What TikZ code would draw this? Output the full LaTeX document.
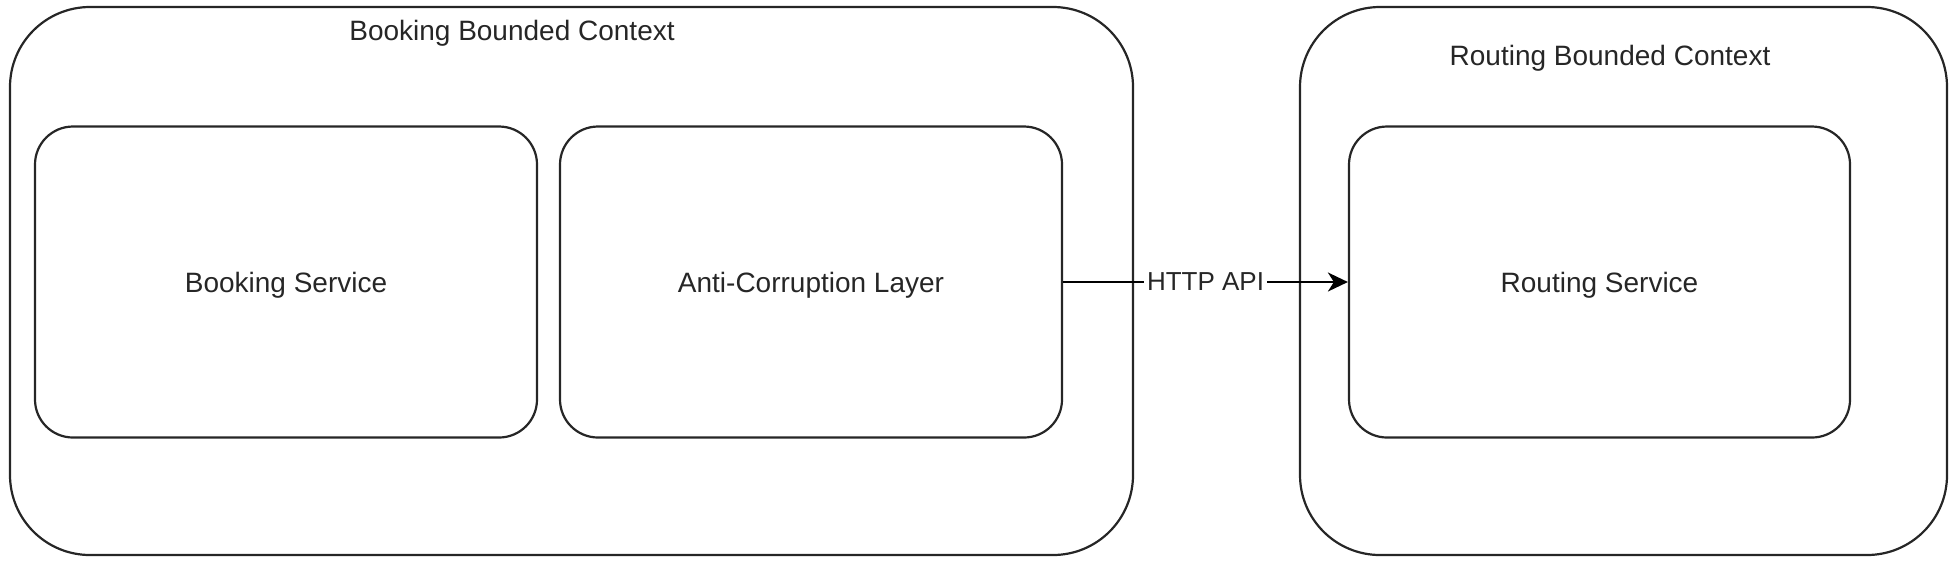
\documentclass[tikz,border=0pt]{standalone}
\usepackage{fontspec}
\setmainfont{Liberation Sans}
\usetikzlibrary{arrows.meta}
\begin{document}
\begin{tikzpicture}[x=0.5pt,y=-0.5pt,
  ctxbox/.style={draw=black!85, line width=1.1pt, rounded corners=40pt, inner sep=0pt},
  svcbox/.style={draw=black!85, line width=1.1pt, rounded corners=19pt, inner sep=0pt,
    minimum height=155.5pt, text depth=0pt, text=black!85, font=\fontsize{14}{16}\selectfont},
  ctxlabel/.style={anchor=base, inner sep=0pt, text=black!85, font=\fontsize{14}{16}\selectfont},
  conn/.style={draw=black, line width=1.1pt, -{Stealth[length=10pt,width=9.5pt,inset=3pt]}},
  connlabel/.style={fill=white, inner sep=1.5pt, text depth=0pt, text=black!85, font=\fontsize{13}{15}\selectfont}]
\useasboundingbox (0,0) rectangle (1958,570);
% bounded contexts
\node[ctxbox, minimum width=561.5pt, minimum height=274pt] (bbc) at (571.5,281) {};
\node[ctxbox, minimum width=323.5pt, minimum height=274pt] (rbc) at (1623.5,281) {};
\node[ctxlabel] (bbct) at (512,40) {Booking Bounded Context};
\node[ctxlabel] (rbct) at (1610,65) {Routing Bounded Context};
% services
\node[svcbox, minimum width=251pt] (bs) at (286,282) {Booking Service};
\node[svcbox, minimum width=251pt] (acl) at (811,282) {Anti-Corruption Layer};
\node[svcbox, minimum width=250.5pt] (rs) at (1599.5,282) {Routing Service};
% connector
\draw[conn] (acl.east) -- node[connlabel] (http) {HTTP API} (rs.west);
\end{tikzpicture}
\end{document}
